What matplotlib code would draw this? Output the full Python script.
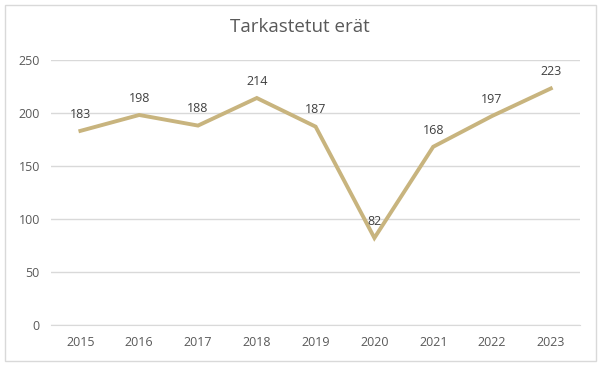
import matplotlib.pyplot as plt
from matplotlib.patches import Rectangle

years = ["2015", "2016", "2017", "2018", "2019", "2020", "2021", "2022", "2023"]
counts = [183, 198, 188, 214, 187, 82, 168, 197, 223]
yticks = [0, 50, 100, 150, 200, 250]

plt.rcParams['font.family'] = ['Open Sans', 'DejaVu Sans']

fig = plt.figure(figsize=(6, 3.65), dpi=100)
ax = fig.add_axes([0.085, 0.11, 0.882, 0.726])

x = list(range(len(years)))
ax.plot(x, counts, color="#C8B47E", linewidth=2.8, solid_joinstyle="miter")
for xi, v in zip(x, counts):
    ax.annotate(str(v), (xi, v), xytext=(0, 12), textcoords="offset points",
                ha="center", va="center", fontsize=9, color="#404040")

ax.set_xlim(-0.5, len(years) - 0.5)
ax.set_ylim(0, 250)
ax.set_yticks(yticks)
ax.set_xticks(x)
ax.set_xticklabels(years)
ax.grid(axis="y", color="#D9D9D9", linewidth=1)
ax.set_axisbelow(True)
for s in ["top", "right", "left"]:
    ax.spines[s].set_visible(False)
ax.spines["bottom"].set_color("#D9D9D9")
ax.tick_params(length=0, labelsize=9, labelcolor="#595959", pad=8)

fig.text(0.5, 0.925, "Tarkastetut erät", ha="center", va="center",
         fontsize=13.5, color="#595959")

fig.patches.append(Rectangle((0.008, 0.012), 0.985, 0.975, transform=fig.transFigure,
                             fill=False, edgecolor="#D9D9D9", linewidth=1))

fig.savefig("out.png", dpi=100, facecolor="white")
